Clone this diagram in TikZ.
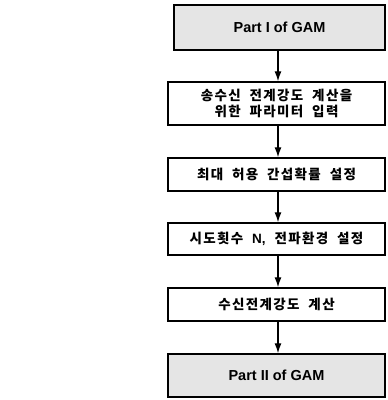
\documentclass[tikz,border=0pt]{standalone}
\usepackage{fontspec}
\setmainfont{Liberation Sans}
\newfontfamily\kr{Noto Sans CJK KR}[LetterSpace=10,WordSpace=2]
\usetikzlibrary{arrows.meta}
\begin{document}
\begin{tikzpicture}[x=1pt,y=-1pt,
  boxstyle/.style={draw=black, line width=1.4pt, inner sep=0pt, font=\kr\bfseries\fontsize{13.5}{15}\selectfont, align=center},
  gamstyle/.style={boxstyle, fill=black!10, font=\bfseries\fontsize{14.5}{16}\selectfont},
  arr/.style={line width=1.3pt, -{Latex[length=10pt,width=7pt]}}]
\useasboundingbox (0,0) rectangle (388,400);
\node[gamstyle, minimum width=211pt, minimum height=45pt] (p1) at (279.5,27.5) {Part I of GAM};
\node[boxstyle, minimum width=217pt, minimum height=43pt] (b2) at (276.5,103.5) {송수신 전계강도 계산을\\[1pt]위한 파라미터 입력};
\node[boxstyle, minimum width=217pt, minimum height=33pt] (b3) at (276.5,174.5) {최대 허용 간섭확률 설정};
\node[boxstyle, minimum width=217pt, minimum height=32pt] (b4) at (276.5,239) {시도횟수 {\rmfamily\bfseries N,} 전파환경 설정};
\node[boxstyle, minimum width=217pt, minimum height=33pt] (b5) at (276.5,304.5) {수신전계강도 계산};
\node[gamstyle, minimum width=217pt, minimum height=43pt] (p2) at (276.5,375.5) {Part II of GAM};
\coordinate (ax) at (278,0);
\draw[arr] (p1.south -| ax) -- (b2.north -| ax);
\draw[arr] (b2.south -| ax) -- (b3.north -| ax);
\draw[arr] (b3.south -| ax) -- (b4.north -| ax);
\draw[arr] (b4.south -| ax) -- (b5.north -| ax);
\draw[arr] (b5.south -| ax) -- (p2.north -| ax);
\end{tikzpicture}
\end{document}
